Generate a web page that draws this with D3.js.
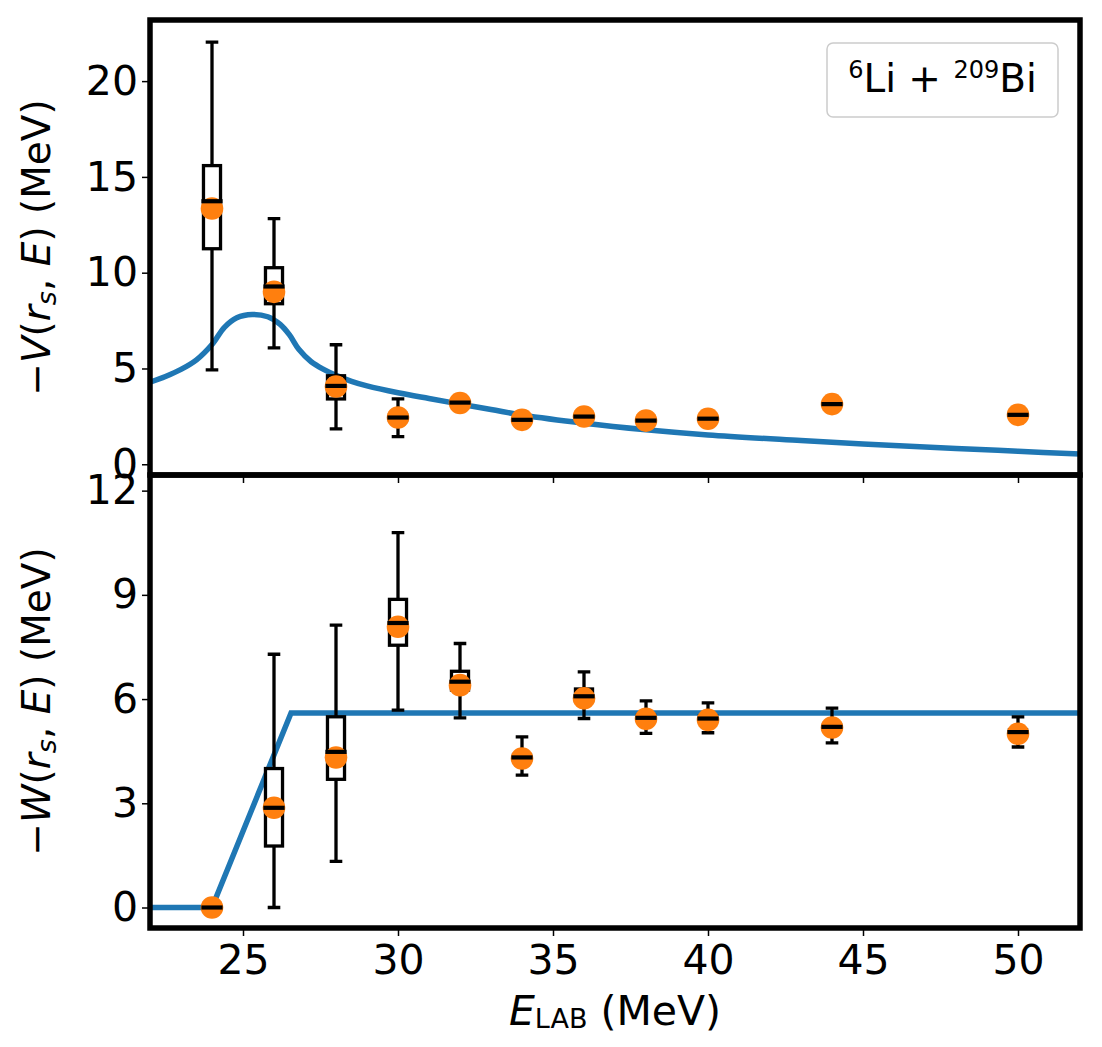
<!DOCTYPE html>
<html>
<head>
<meta charset="utf-8">
<script src="https://cdn.jsdelivr.net/npm/d3@7"></script>
<style>
  body { margin: 0; background: #fff; }
  svg { display: block; font-family: "DejaVu Sans", sans-serif; }
</style>
</head>
<body>
<svg width="1102" height="1047"></svg>
<script>
// Beam energies of the extracted points
var energies = [24, 26, 28, 30, 32, 34, 36, 38, 40, 44, 50];

// Real part -V(rs,E): mean (dots) and box statistics
var vMean   = [13.35, 9.0, 4.06, 2.44, 3.2, 2.32, 2.49, 2.28, 2.38, 3.14, 2.58];
var vMedian = [13.73, 9.28, 4.09, 2.44, 3.22, 2.32, 2.49, 2.28, 2.38, 3.14, 2.58];
var vQ1     = [11.25, 8.38, 3.41, 2.3, 3.12, 2.25, 2.42, 2.21, 2.31, 3.07, 2.51];
var vQ3     = [15.59, 10.26, 4.62, 2.58, 3.32, 2.39, 2.56, 2.35, 2.45, 3.21, 2.65];
var vLow    = [4.93, 6.08, 1.85, 1.44, 2.95, 2.1, 2.28, 2.08, 2.18, 2.94, 2.38];
var vHigh   = [22.04, 12.82, 6.24, 3.41, 3.45, 2.52, 2.68, 2.48, 2.58, 3.32, 2.76];

// Imaginary part -W(rs,E)
var wMean   = [0, 2.87, 4.32, 8.08, 6.4, 4.29, 6.02, 5.43, 5.4, 5.18, 5.0];
var wMedian = [0, 2.87, 4.48, 8.19, 6.5, 4.32, 6.08, 5.46, 5.44, 5.2, 5.05];
var wQ1     = [-0.05, 1.77, 3.69, 7.55, 6.26, 4.25, 5.95, 5.38, 5.36, 5.13, 4.98];
var wQ3     = [0.05, 4.0, 5.49, 8.87, 6.8, 4.39, 6.29, 5.54, 5.52, 5.27, 5.12];
var wLow    = [-0.05, 0.0, 1.33, 5.68, 5.46, 3.81, 5.44, 5.01, 5.03, 4.74, 4.62];
var wHigh   = [0.05, 7.29, 8.13, 10.79, 7.6, 4.91, 6.78, 5.95, 5.89, 5.74, 5.49];

// Model curves
var vCurveE = [22, 22.5, 23, 23.5, 24, 24.4, 24.8, 25.3, 25.8, 26.2, 26.5, 26.8, 27.2, 27.6,
               28, 28.5, 29, 30, 31, 32, 33, 34, 36, 38, 40, 43, 45, 48, 50, 52];
var vCurve  = [4.28, 4.58, 4.95, 5.45, 6.25, 7.15, 7.65, 7.82, 7.7, 7.3, 6.75, 6.0, 5.35, 4.95,
               4.64, 4.33, 4.09, 3.73, 3.43, 3.14, 2.86, 2.57, 2.14, 1.8, 1.53, 1.24, 1.06, 0.82, 0.68, 0.53];
var wCurveE = [22, 24, 26.55, 52];
var wCurve  = [0, 0, 5.6, 5.6];

var xTicks = [25, 30, 35, 40, 45, 50];
var vTicks = [0, 5, 10, 15, 20];
var wTicks = [0, 3, 6, 9, 12];

var svg = d3.select('svg');
var left = 150, right = 1080;
var blue = '#1f77b4', orange = '#ff7f0e';

var xScale = d3.scaleLinear().domain([22, 52]).range([left, right]);

var panels = [
    {id: 'top', top: 20, bottom: 475, domain: [-0.56, 23.19], ticks: vTicks,
     mean: vMean, median: vMedian, q1: vQ1, q3: vQ3, lo: vLow, hi: vHigh,
     curveE: vCurveE, curve: vCurve, curveType: d3.curveCatmullRom.alpha(0.5), label: 'V'},
    {id: 'bot', top: 475, bottom: 928, domain: [-0.59, 12.45], ticks: wTicks,
     mean: wMean, median: wMedian, q1: wQ1, q3: wQ3, lo: wLow, hi: wHigh,
     curveE: wCurveE, curve: wCurve, curveType: d3.curveLinear, label: 'W'}
];

var boxW = 0.55, capW = 0.3;

panels.forEach(function(p, pi) {
    var yScale = d3.scaleLinear().domain(p.domain).range([p.bottom, p.top]);

    svg.append('clipPath').attr('id', 'clip-' + p.id)
        .append('rect')
        .attr('x', left).attr('y', p.top)
        .attr('width', right - left).attr('height', p.bottom - p.top);

    var g = svg.append('g').attr('clip-path', 'url(#clip-' + p.id + ')');

    // model line
    var line = d3.line()
        .x(function(d, i) { return xScale(p.curveE[i]); })
        .y(function(d) { return yScale(d); })
        .curve(p.curveType);
    g.append('path')
        .datum(p.curve)
        .attr('d', line)
        .attr('fill', 'none')
        .attr('stroke', blue)
        .attr('stroke-width', 5.5);

    var idx = d3.range(energies.length);
    var bw = xScale(boxW) - xScale(0);
    var cw = xScale(capW) - xScale(0);

    // whiskers
    g.selectAll('.whisker').data(idx).enter().append('path')
        .attr('d', function(i) {
            var x = xScale(energies[i]);
            return 'M' + x + ',' + yScale(p.q3[i]) + 'V' + yScale(p.hi[i]) +
                   'M' + x + ',' + yScale(p.q1[i]) + 'V' + yScale(p.lo[i]);
        })
        .attr('stroke', '#000').attr('stroke-width', 3.3).attr('fill', 'none');

    // caps
    g.selectAll('.cap').data(idx).enter().append('path')
        .attr('d', function(i) {
            var x = xScale(energies[i]);
            return 'M' + (x - cw / 2) + ',' + yScale(p.hi[i]) + 'H' + (x + cw / 2) +
                   'M' + (x - cw / 2) + ',' + yScale(p.lo[i]) + 'H' + (x + cw / 2);
        })
        .attr('stroke', '#000').attr('stroke-width', 3.3)
        .attr('stroke-linecap', 'square').attr('fill', 'none');

    // boxes
    g.selectAll('.box').data(idx).enter().append('rect')
        .attr('x', function(i) { return xScale(energies[i]) - bw / 2; })
        .attr('y', function(i) { return yScale(p.q3[i]); })
        .attr('width', bw)
        .attr('height', function(i) { return yScale(p.q1[i]) - yScale(p.q3[i]); })
        .attr('fill', '#fff')
        .attr('stroke', '#000').attr('stroke-width', 3.3);

    // mean markers
    g.selectAll('.dot').data(idx).enter().append('circle')
        .attr('cx', function(i) { return xScale(energies[i]); })
        .attr('cy', function(i) { return yScale(p.mean[i]); })
        .attr('r', 11.3)
        .attr('fill', orange);

    // medians
    g.selectAll('.median').data(idx).enter().append('path')
        .attr('d', function(i) {
            var x = xScale(energies[i]);
            return 'M' + (x - bw / 2) + ',' + yScale(p.median[i]) + 'H' + (x + bw / 2);
        })
        .attr('stroke', '#000').attr('stroke-width', 4.2)
        .attr('stroke-linecap', 'square');

    // y axis
    var yAxis = svg.append('g')
        .attr('transform', 'translate(' + left + ',0)')
        .call(d3.axisLeft(yScale).tickValues(p.ticks).tickSize(8).tickPadding(4));
    yAxis.select('.domain').remove();
    yAxis.selectAll('line').attr('stroke-width', 1.5);
    yAxis.selectAll('text').attr('font-size', 41).attr('font-family', '"DejaVu Sans"').attr('fill', '#000');

    // x axis (labels only on bottom panel)
    var xAxis = svg.append('g')
        .attr('transform', 'translate(0,' + p.bottom + ')')
        .call(d3.axisBottom(xScale).tickValues(xTicks).tickSize(8).tickPadding(9));
    xAxis.select('.domain').remove();
    xAxis.selectAll('line').attr('stroke-width', 1.5);
    if (pi === 0) {
        xAxis.selectAll('text').remove();
    } else {
        xAxis.selectAll('text').attr('font-size', 41).attr('font-family', '"DejaVu Sans"').attr('fill', '#000');
    }

    // frame
    svg.append('rect')
        .attr('x', left).attr('y', p.top)
        .attr('width', right - left).attr('height', p.bottom - p.top)
        .attr('fill', 'none').attr('stroke', '#000').attr('stroke-width', 5.5);

    // y label
    var yl = svg.append('text')
        .attr('transform', 'translate(50,' + ((p.top + p.bottom) / 2) + ') rotate(-90)')
        .attr('text-anchor', 'middle')
        .attr('font-size', 39);
    yl.append('tspan').text('\u2212');
    yl.append('tspan').attr('font-style', 'italic').text(p.label);
    yl.append('tspan').text('(');
    yl.append('tspan').attr('font-style', 'italic').text('r');
    yl.append('tspan').attr('font-style', 'italic').attr('font-size', 27).attr('dy', 6).text('s');
    yl.append('tspan').attr('dy', -6).text(', ');
    yl.append('tspan').attr('font-style', 'italic').text('E');
    yl.append('tspan').text(') (MeV)');
});

// x label
var xl = svg.append('text')
    .attr('x', (left + right) / 2).attr('y', 1025)
    .attr('text-anchor', 'middle')
    .attr('font-size', 41);
xl.append('tspan').attr('font-style', 'italic').text('E');
xl.append('tspan').attr('font-size', 27).attr('dy', 3).text('LAB');
xl.append('tspan').attr('dy', -3).text(' (MeV)');

// legend box with reaction label
svg.append('rect')
    .attr('x', 827).attr('y', 43).attr('width', 231).attr('height', 74)
    .attr('rx', 6).attr('ry', 6)
    .attr('fill', '#fff').attr('stroke', '#cccccc').attr('stroke-width', 1.5);

var lg = svg.append('text')
    .attr('x', 942.5).attr('y', 92)
    .attr('text-anchor', 'middle')
    .attr('font-size', 39);
lg.append('tspan').attr('font-size', 24).attr('dy', -14).text('6');
lg.append('tspan').attr('dy', 14).text('Li + ');
lg.append('tspan').attr('font-size', 24).attr('dy', -14).text('209');
lg.append('tspan').attr('dy', 14).text('Bi');
</script>
</body>
</html>
